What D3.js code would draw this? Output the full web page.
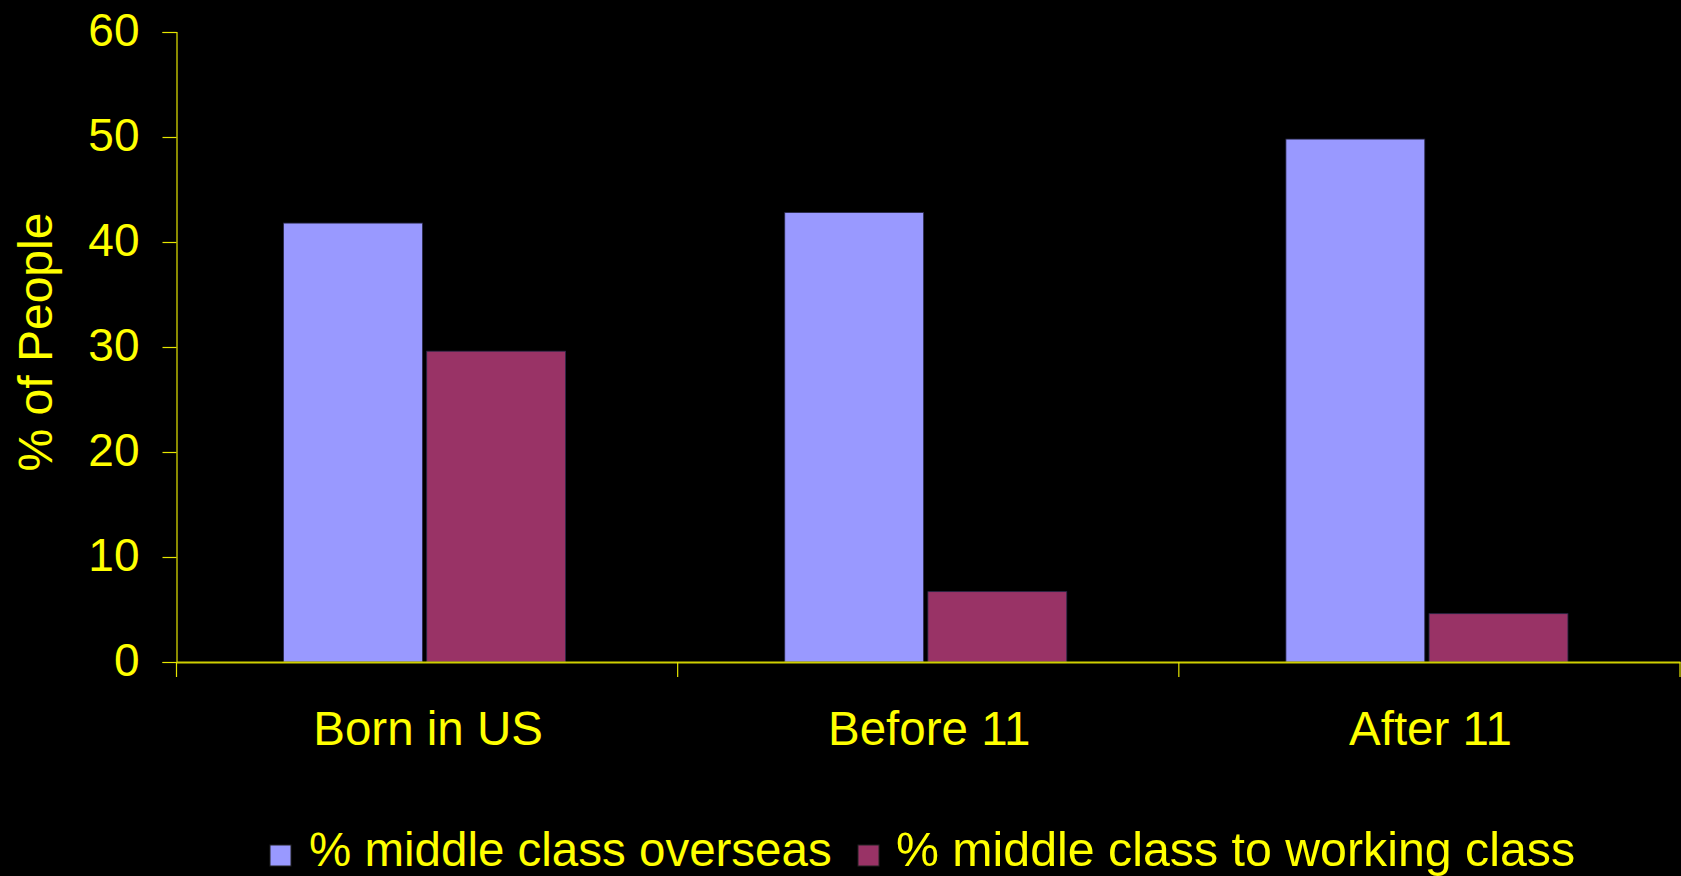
<!DOCTYPE html>
<html>
<head>
<meta charset="utf-8">
<script src="https://cdn.jsdelivr.net/npm/d3@7"></script>
<style>
  html, body { margin: 0; padding: 0; background: #000; }
  svg { display: block; }
  text { font-family: "Liberation Sans", Arial, sans-serif; fill: #FFFF00; }
</style>
</head>
<body>
<svg id="chart" width="1681" height="876"></svg>
<script>
const categories = ["Born in US", "Before 11", "After 11"];
const seriesNames = ["% middle class overseas", "% middle class to working class"];
const overseas = [41.8, 42.8, 49.8];
const toWorking = [29.6, 6.7, 4.6];
const yTicks = [0, 10, 20, 30, 40, 50, 60];
const seriesColors = ["#9999FF", "#993366"];

const W = 1681, H = 876;
const plotLeft = 176.5, plotRight = 1680, plotTop = 32, plotBottom = 662;

const svg = d3.select("#chart");
svg.append("rect").attr("width", W).attr("height", H).attr("fill", "#000");

const x0 = d3.scaleBand().domain(categories).range([plotLeft, plotRight]).padding(0);
const groupW = 282;
const groupOffset = (x0.bandwidth() - groupW) / 2 - 2.5;
const x1 = d3.scaleBand().domain(seriesNames).range([0, groupW]).paddingInner(0.03);
const y = d3.scaleLinear().domain([0, 60]).range([plotBottom, plotTop]);

const values = [overseas, toWorking];

// bars
const g = svg.append("g");
categories.forEach((c, ci) => {
  const gx = x0(c) + groupOffset;
  seriesNames.forEach((s, si) => {
    const v = values[si][ci];
    g.append("rect")
      .attr("x", gx + x1(s))
      .attr("y", y(v))
      .attr("width", x1.bandwidth())
      .attr("height", y(0) - y(v))
      .attr("fill", seriesColors[si])
      .attr("stroke", "#2a2a4a")
      .attr("stroke-width", 0.8);
  });
});

// y axis
const yAxis = d3.axisLeft(y).tickValues(yTicks).tickSize(14).tickPadding(23);
const ya = svg.append("g").attr("transform", `translate(${plotLeft},0)`).call(yAxis);
ya.select(".domain").attr("stroke", "#E6E600").attr("stroke-width", 1.2);
ya.selectAll(".tick line").attr("stroke", "#E6E600").attr("stroke-width", 1.2);
ya.selectAll(".tick text")
  .attr("font-size", 46)
  .attr("font-family", "Liberation Sans, Arial, sans-serif")
  .attr("fill", "#FFFF00")
  .attr("dy", "0.29em");

// x axis
const xAxis = d3.axisBottom(x0).tickSize(0).tickFormat("");
const xa = svg.append("g").attr("transform", `translate(0,${plotBottom})`).call(xAxis);
xa.select(".domain").attr("stroke", "#CFCF00").attr("stroke-width", 2);
xa.selectAll(".tick").remove();
// group boundary ticks
const boundaries = categories.map(c => x0(c)).concat([x0(categories[categories.length - 1]) + x0.bandwidth()]);
svg.append("g").selectAll("line").data(boundaries).join("line")
  .attr("x1", d => d).attr("x2", d => d)
  .attr("y1", plotBottom).attr("y2", plotBottom + 15)
  .attr("stroke", "#E6E600").attr("stroke-width", 1.2);
// category labels
svg.append("g").selectAll("text").data(categories).join("text")
  .attr("x", d => x0(d) + x0.bandwidth() / 2 + 1)
  .attr("y", 745)
  .attr("text-anchor", "middle")
  .attr("font-size", 47.5)
  .text(d => d);

// y title
svg.append("text")
  .attr("transform", `translate(52,342) rotate(-90)`)
  .attr("text-anchor", "middle")
  .attr("font-size", 48)
  .text("% of People");

// legend
const legendItems = [
  { name: seriesNames[0], color: seriesColors[0], sx: 270, tx: 309, fs: 47.5 },
  { name: seriesNames[1], color: seriesColors[1], sx: 858, tx: 896, fs: 48.3 }
];
const lg = svg.append("g");
legendItems.forEach(it => {
  lg.append("rect")
    .attr("x", it.sx).attr("y", 845)
    .attr("width", 21).attr("height", 21)
    .attr("fill", it.color).attr("stroke", "#222").attr("stroke-width", 1);
  lg.append("text")
    .attr("x", it.tx).attr("y", 866)
    .attr("font-size", it.fs)
    .text(it.name);
});
</script>
</body>
</html>
